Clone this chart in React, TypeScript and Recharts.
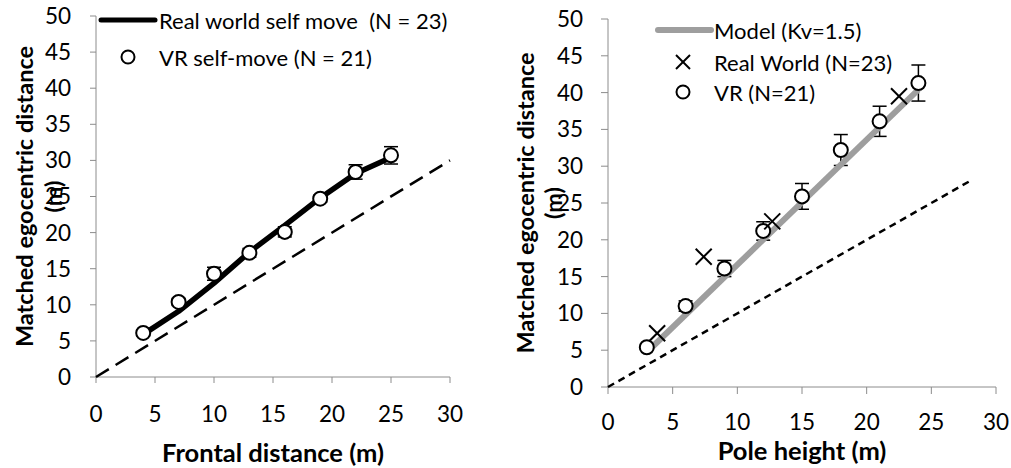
import React from 'react';
import { ComposedChart, Scatter, XAxis, YAxis, ErrorBar } from 'recharts';

const FONT = 'Lato, "Open Sans", sans-serif';
const AXIS_GRAY = '#8c8c8c';
const MODEL_GRAY = '#9e9e9e';

// ---------- Left panel: frontal distance ----------
const frontalDistance = [4, 7, 10, 13, 16, 19, 22, 25];
const realWorldSelfMove = [5.9, 9.1, 13.0, 17.3, 21.0, 24.8, 28.2, 30.4];
const vrSelfMove = [6.1, 10.4, 14.3, 17.2, 20.1, 24.7, 28.4, 30.7];
const vrSelfMoveErr = [0.4, 0.5, 0.9, 0.6, 0.7, 0.5, 1.0, 1.2];
const leftIdentity = [0, 30];

// ---------- Right panel: pole height ----------
const poleHeightVR = [3, 6, 9, 12, 15, 18, 21, 24];
const vrPole = [5.4, 11.0, 16.1, 21.2, 25.9, 32.2, 36.1, 41.3];
const vrPoleErr = [0.2, 0.7, 1.1, 1.25, 1.75, 2.1, 2.05, 2.45];
const poleHeightRW = [3.8, 7.4, 12.7, 22.5];
const realWorldPole = [7.3, 17.7, 22.5, 39.5];
const modelX = [3.4, 24];
const modelY = [5.4, 40.4];
const rightIdentity = [0, 28.2];

const xTicks = [0, 5, 10, 15, 20, 25, 30];
const yTicks = [0, 5, 10, 15, 20, 25, 30, 35, 40, 45, 50];

const yTitleText = 'Matched egocentric distance';
const yTitleUnit = '(m)';
const leftXTitle = 'Frontal distance (m)';
const rightXTitle = 'Pole height (m)';

const leftLegend = ['Real world self move\u00a0\u00a0(N = 23)', 'VR self-move (N = 21)'];
const rightLegend = ['Model (Kv=1.5)', 'Real World (N=23)', 'VR (N=21)'];

// ---------- derived tables ----------
const pairs = (xs: number[], ys: number[]) => xs.map((x, i) => ({ x, y: ys[i] }));
const withErr = (xs: number[], ys: number[], es: number[]) =>
  xs.map((x, i) => ({ x, y: ys[i], err: es[i] }));

const leftRW = pairs(frontalDistance, realWorldSelfMove);
const leftVR = withErr(frontalDistance, vrSelfMove, vrSelfMoveErr);
const leftId = pairs(leftIdentity, leftIdentity);
const rightVR = withErr(poleHeightVR, vrPole, vrPoleErr);
const rightRW = pairs(poleHeightRW, realWorldPole);
const rightModel = pairs(modelX, modelY);
const rightId = pairs(rightIdentity, rightIdentity);

const Nothing = () => <g />;

const Circle = (props: any) => (
  <circle cx={props.cx} cy={props.cy} r={7} fill="#fff" stroke="#000" strokeWidth={2} />
);

const Cross = (props: any) => {
  const { cx, cy } = props;
  const h = 8;
  return (
    <g stroke="#000" strokeWidth={2}>
      <line x1={cx - h} y1={cy - h} x2={cx + h} y2={cy + h} />
      <line x1={cx - h} y1={cy + h} x2={cx + h} y2={cy - h} />
    </g>
  );
};

const yTitle = (dx1: number, dx2: number) => (props: any) => {
  const vb = props.viewBox || {};
  const cy = vb.y + vb.height / 2;
  const x1 = vb.x + dx1;
  const x2 = vb.x + dx2;
  return (
    <g fontFamily={FONT} fontWeight="bold" fontSize={23.5} fill="#000">
      <text x={x1} y={cy} transform={`rotate(-90 ${x1} ${cy})`} textAnchor="middle" dominantBaseline="central">
        {yTitleText}
      </text>
      <text x={x2} y={cy} transform={`rotate(-90 ${x2} ${cy})`} textAnchor="middle" dominantBaseline="central">
        {yTitleUnit}
      </text>
    </g>
  );
};

const xTitle = (text: string, dy: number) => (props: any) => {
  const vb = props.viewBox || {};
  const cx = vb.x + vb.width / 2;
  return (
    <text x={cx} y={vb.y + dy} textAnchor="middle" dominantBaseline="central" fontFamily={FONT} fontWeight="bold" fontSize={25.5} fill="#000">
      {text}
    </text>
  );
};

const tickStyle = { fill: '#000', fontSize: 22.5, fontFamily: FONT };

export default function App() {
  return (
    <div style={{ position: 'absolute', left: 0, top: 0, width: 1011, height: 468, background: '#fff', fontFamily: FONT }}>
      <div style={{ position: 'absolute', left: 0, top: 0 }}>
        <ComposedChart width={500} height={468} margin={{ top: 16, right: 50, bottom: 0, left: 0 }}>
          <XAxis
            type="number"
            dataKey="x"
            domain={[0, 30]}
            ticks={xTicks}
            interval={0}
            height={91}
            stroke={AXIS_GRAY}
            tickSize={6}
            tickMargin={23}
            tick={tickStyle}
            label={xTitle(leftXTitle, 75)}
          />
          <YAxis
            type="number"
            dataKey="y"
            domain={[0, 50]}
            ticks={yTicks}
            interval={0}
            width={96}
            stroke={AXIS_GRAY}
            tickSize={6}
            tickMargin={19}
            tick={tickStyle}
            label={yTitle(24, 53)}
          />
          <Scatter data={leftId} shape={Nothing} line={{ stroke: '#000', strokeWidth: 2.5, strokeDasharray: '15 8' }} isAnimationActive={false} />
          <Scatter data={leftRW} shape={Nothing} line={{ stroke: '#000', strokeWidth: 5.5, strokeLinejoin: 'round' }} isAnimationActive={false} />
          <Scatter data={leftVR} shape={Circle} isAnimationActive={false}>
            <ErrorBar dataKey="err" direction="y" width={7} stroke="#000" strokeWidth={1.5} />
          </Scatter>
        </ComposedChart>
      </div>
      <div style={{ position: 'absolute', left: 500, top: 0 }}>
        <ComposedChart width={511} height={468} margin={{ top: 19, right: 15, bottom: 0, left: 0 }}>
          <XAxis
            type="number"
            dataKey="x"
            domain={[0, 30]}
            ticks={xTicks}
            interval={0}
            height={81}
            stroke={AXIS_GRAY}
            tickSize={7}
            tickMargin={20}
            tick={tickStyle}
            label={xTitle(rightXTitle, 63)}
          />
          <YAxis
            type="number"
            dataKey="y"
            domain={[0, 50]}
            ticks={yTicks}
            interval={0}
            width={108}
            stroke={AXIS_GRAY}
            tickSize={7}
            tickMargin={18}
            tick={tickStyle}
            label={yTitle(25, 53)}
          />
          <Scatter data={rightId} shape={Nothing} line={{ stroke: '#000', strokeWidth: 2.5, strokeDasharray: '7 5' }} isAnimationActive={false} />
          <Scatter data={rightModel} shape={Nothing} line={{ stroke: MODEL_GRAY, strokeWidth: 6 }} isAnimationActive={false} />
          <Scatter data={rightVR} shape={Circle} isAnimationActive={false}>
            <ErrorBar dataKey="err" direction="y" width={7} stroke="#000" strokeWidth={1.5} />
          </Scatter>
          <Scatter data={rightRW} shape={Cross} isAnimationActive={false} />
        </ComposedChart>
      </div>
      <svg width={1011} height={468} style={{ position: 'absolute', left: 0, top: 0, pointerEvents: 'none' }}>
        <g fontFamily={FONT} fontSize={22} fill="#000">
          <line x1={101} y1={20} x2={155} y2={20} stroke="#000" strokeWidth={5} strokeLinecap="round" />
          <text x={159} y={20} dominantBaseline="central">{leftLegend[0]}</text>
          <circle cx={128} cy={57} r={6.5} fill="#fff" stroke="#000" strokeWidth={2} />
          <text x={159} y={57} dominantBaseline="central">{leftLegend[1]}</text>

          <line x1={658} y1={30} x2={711} y2={30} stroke={MODEL_GRAY} strokeWidth={6} strokeLinecap="round" />
          <text x={714} y={30} dominantBaseline="central">{rightLegend[0]}</text>
          <g stroke="#000" strokeWidth={2}>
            <line x1={676} y1={55} x2={690} y2={69} />
            <line x1={676} y1={69} x2={690} y2={55} />
          </g>
          <text x={714} y={62} dominantBaseline="central">{rightLegend[1]}</text>
          <circle cx={683} cy={92} r={6.5} fill="#fff" stroke="#000" strokeWidth={2} />
          <text x={714} y={92} dominantBaseline="central">{rightLegend[2]}</text>
        </g>
      </svg>
    </div>
  );
}
